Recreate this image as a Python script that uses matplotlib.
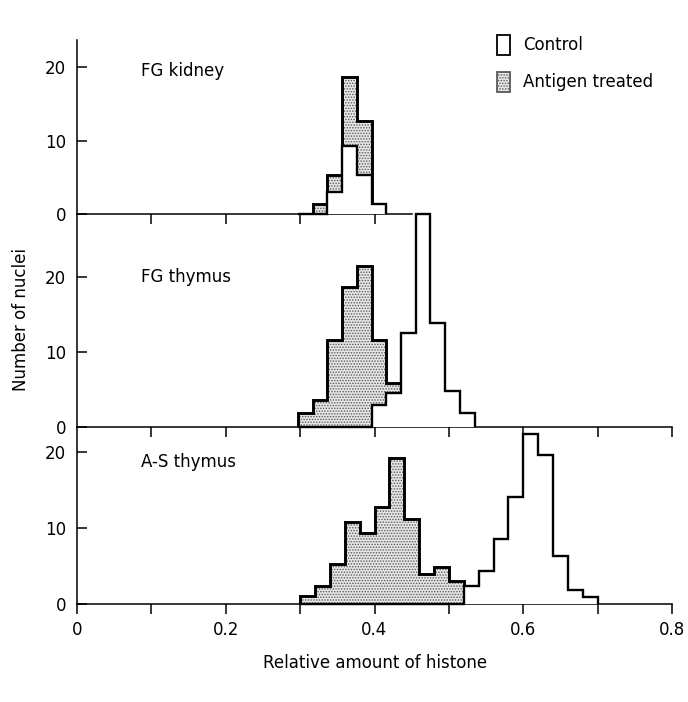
import numpy as np
import matplotlib
matplotlib.use("Agg")
import matplotlib.pyplot as plt
from matplotlib.patches import Patch

plt.rcParams["font.family"] = ["DejaVu Sans"]
plt.rcParams["hatch.linewidth"] = 0.7
plt.rcParams["hatch.color"] = "#5a5a5a"

# bin layout per panel (start, width)
kidney_start, kidney_width = 0.297, 0.0198
fg_start, fg_width = 0.297, 0.0198
as_start, as_width = 0.300, 0.020

# FG kidney
kidney_antigen = [0, 1.3, 5.3, 18.6, 12.6, 0]
kidney_control = [0, 0, 3.0, 9.2, 5.3, 1.3]

# FG thymus
fg_antigen = [1.8, 3.6, 11.6, 18.6, 21.5, 11.6, 5.8, 0, 0, 0, 0, 0]
fg_control = [0, 0, 0, 0, 0, 2.9, 4.5, 12.5, 28.4, 13.8, 4.8, 1.8]

# A-S thymus
as_antigen = [1, 2.3, 5.3, 10.8, 9.3, 12.7, 19.2, 11.2, 4.0, 4.8, 3.0,
              0, 0, 0, 0, 0, 0, 0, 0, 0]
as_control = [0, 0, 0, 0, 0, 0, 0, 0, 0, 0, 0,
              2.4, 4.4, 8.6, 14.1, 22.4, 19.6, 6.3, 1.9, 0.9]

panel_names = ["FG kidney", "FG thymus", "A-S thymus"]
legend_labels = ["Control", "Antigen treated"]
x_labels = ["0", "0.2", "0.4", "0.6", "0.8"]


def edges(start, width, n):
    return start + width * np.arange(n + 1)


fig = plt.figure(figsize=(6.88, 7.02), dpi=100)
W, H = 688.0, 702.0
left = 77 / W
width = (672 - 77) / W
ax_top = fig.add_axes([left, 1 - 214 / H, width, 174 / H])
ax_mid = fig.add_axes([left, 1 - 426.7 / H, width, 212.7 / H])
ax_bot = fig.add_axes([left, 1 - 604 / H, width, 177.3 / H])

panels = [
    (ax_top, edges(kidney_start, kidney_width, len(kidney_antigen)), kidney_antigen, kidney_control, 23.7),
    (ax_mid, edges(fg_start, fg_width, len(fg_antigen)), fg_antigen, fg_control, 28.4),
    (ax_bot, edges(as_start, as_width, len(as_antigen)), as_antigen, as_control, 23.3),
]

stipple = dict(fill=True, facecolor="#e6e6e6", edgecolor="#5a5a5a", hatch="......", linewidth=0)

for ax, e, ag, ct, ytop in panels:
    ax.stairs(ag, e, **stipple, zorder=1)
    ax.stairs(ag, e, color="black", linewidth=2.1, zorder=2)
    ax.stairs(ct, e, fill=True, facecolor="white", linewidth=0, zorder=3)
    ax.stairs(ct, e, color="black", linewidth=1.7, zorder=4, clip_on=False)
    ax.set_xlim(0, 0.8)
    ax.set_ylim(0, ytop)
    ax.patch.set_alpha(0)
    for s in ["top", "right"]:
        ax.spines[s].set_visible(False)
    for s in ["left", "bottom"]:
        ax.spines[s].set_linewidth(1.1)
    ax.set_yticks([0, 10, 20])
    ax.tick_params(axis="y", direction="in", length=7, width=1.1, labelsize=12, pad=8)
    ax.tick_params(axis="x", direction="out", length=7, width=1.1, labelsize=12, pad=5)

ax_top.spines["bottom"].set_bounds(0, 0.45)
ax_top.set_xticks([0.1, 0.2, 0.3, 0.4])
ax_top.set_xticklabels([])
ax_mid.set_xticks(np.arange(1, 9) / 10)
ax_mid.set_xticklabels([])
ax_bot.set_xticks(np.arange(0, 9) / 10)
ax_bot.set_xticklabels([x_labels[i // 2] if i % 2 == 0 else "" for i in range(9)])

ax_top.text(0.086, 19.5, panel_names[0], fontsize=12, va="center")
ax_mid.text(0.086, 20.0, panel_names[1], fontsize=12, va="center")
ax_bot.text(0.086, 18.7, panel_names[2], fontsize=12, va="center")

handles = [Patch(facecolor="white", edgecolor="black", linewidth=1.3),
           Patch(facecolor="#e6e6e6", edgecolor="#5a5a5a", hatch="......", linewidth=1.3)]
fig.legend(handles, legend_labels, loc="upper left", bbox_to_anchor=(0.70, 0.972),
           frameon=False, fontsize=12, handlelength=0.8, handleheight=1.5,
           handletextpad=0.8, labelspacing=1.0)

fig.text(0.03, 0.545, "Number of nuclei", rotation=90, fontsize=12, ha="center", va="center")
fig.text(0.545, 0.056, "Relative amount of histone", fontsize=12, ha="center", va="center")

fig.savefig("out.png", dpi=100)
